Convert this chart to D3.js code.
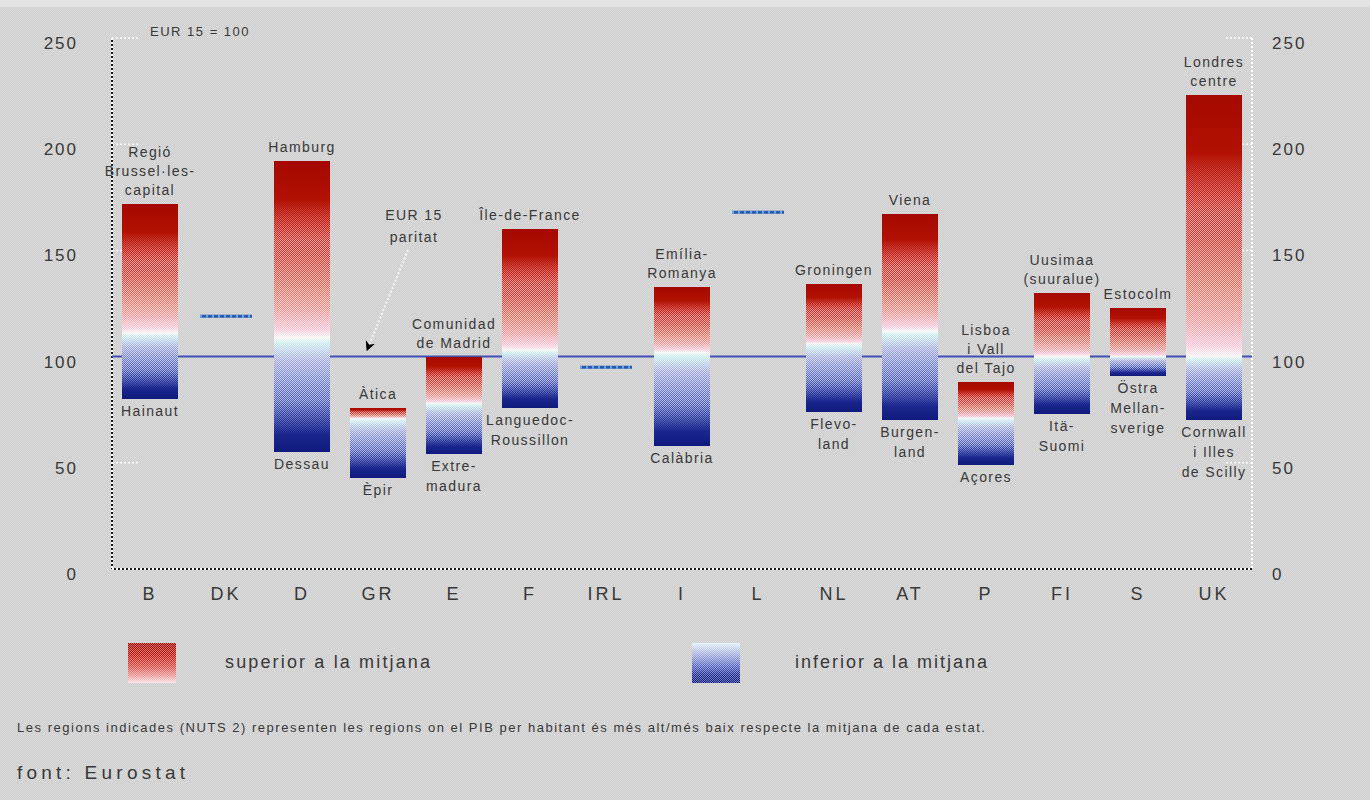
<!DOCTYPE html>
<html><head><meta charset="utf-8">
<script src="https://cdn.jsdelivr.net/npm/d3@7"></script>
<style>
body{margin:0;background:#d3d3d3;}
svg{display:block;}
text{font-family:"Liberation Sans",Arial,sans-serif;fill:#383838;}
</style></head><body><svg id="chart" width="1370" height="800"></svg>
<script>
// ---------- data ----------
const categories = ["B","DK","D","GR","E","F","IRL","I","L","NL","AT","P","FI","S","UK"];
const highValues = [172, null, 192, 76, 100, 160, null, 133, null, 134, 167, 88, 130, 123, 223];
const lowValues  = [80,  null, 55,  43, 54,  76,  null, 58,  null, 74,  70,  49, 73,  91,  70];
const nationalAverage = [111, 119, 109, 71, 78, 103, 95, 102, 168, 106, 112, 71, 100, 100, 100];
const highRegions = [
  ["Regió","Brussel·les-","capital"], [], ["Hamburg"], ["Àtica"], ["Comunidad","de Madrid"],
  ["Île-de-France"], [], ["Emília-","Romanya"], [], ["Groningen"], ["Viena"],
  ["Lisboa","i Vall","del Tajo"], ["Uusimaa","(suuralue)"], ["Estocolm"], ["Londres","centre"]
];
const lowRegions = [
  ["Hainaut"], [], ["Dessau"], ["Èpir"], ["Extre-","madura"], ["Languedoc-","Roussillon"], [],
  ["Calàbria"], [], ["Flevo-","land"], ["Burgen-","land"], ["Açores"], ["Itä-","Suomi"],
  ["Östra","Mellan-","sverige"], ["Cornwall","i Illes","de Scilly"]
];
const yTicks = [0, 50, 100, 150, 200, 250];
const referenceValue = 100;
const unitLabel = "EUR 15 = 100";
const parityLabel = ["EUR 15","paritat"];
const legendLabels = ["superior a la mitjana", "inferior a la mitjana"];
const footnote = "Les regions indicades (NUTS 2) representen les regions on el PIB per habitant és més alt/més baix respecte la mitjana de cada estat.";
const sourceText = "font: Eurostat";

// ---------- setup ----------
const W = 1370, H = 800;
const svg = d3.select("#chart");
const defs = svg.append("defs");

function checker(id, base, dot, op) {
  const p = defs.append("pattern").attr("id", id).attr("width", 2).attr("height", 2)
    .attr("patternUnits", "userSpaceOnUse");
  if (base) p.append("rect").attr("width", 2).attr("height", 2).attr("fill", base);
  p.append("rect").attr("x", 0).attr("y", 0).attr("width", 1).attr("height", 1).attr("fill", dot).attr("fill-opacity", op);
  p.append("rect").attr("x", 1).attr("y", 1).attr("width", 1).attr("height", 1).attr("fill", dot).attr("fill-opacity", op);
}
checker("bgdither", "#cdcdcd", "#dcdcdc", 1);
checker("wdither", null, "#ffffff", 0.6);

svg.append("rect").attr("width", W).attr("height", H).attr("fill", "url(#bgdither)");
svg.append("rect").attr("width", W).attr("height", 7).attr("fill", "#e3e3e3");

const x = d3.scaleBand().domain(categories).range([112, 1252]).paddingInner(0.263).paddingOuter(0.1315);
const y = d3.scaleLinear().domain([0, 250]).range([569, 38]);
const bw = x.bandwidth();

// inner tick stubs
const g = svg.append("g");
g.selectAll(".stubL").data(yTicks.filter(d => d > 0)).join("line")
  .attr("x1", 112).attr("x2", 138).attr("y1", d => y(d)).attr("y2", d => y(d))
  .attr("stroke", "#fafafa").attr("stroke-width", 1.5).attr("stroke-dasharray", "2,2");
g.selectAll(".stubR").data(yTicks.filter(d => d > 0)).join("line")
  .attr("x1", 1226).attr("x2", 1252).attr("y1", d => y(d)).attr("y2", d => y(d))
  .attr("stroke", "#fafafa").attr("stroke-width", 1.5).attr("stroke-dasharray", "2,2");

// frame
function dotted(x1, y1, x2, y2, dark) {
  if (dark) g.append("line").attr("x1", x1).attr("y1", y1).attr("x2", x2).attr("y2", y2)
    .attr("stroke", "#1a1a1a").attr("stroke-width", 2);
  g.append("line").attr("x1", x1).attr("y1", y1).attr("x2", x2).attr("y2", y2)
    .attr("stroke", "#ffffff").attr("stroke-width", 2).attr("stroke-dasharray", "2,2");
}
dotted(112, y(250), 112, y(0), true);
dotted(112, y(0), 1252, y(0), true);
dotted(1252, y(250), 1252, y(0), false);

// reference line at 100
g.append("line").attr("x1", 112).attr("x2", 1252).attr("y1", y(referenceValue)).attr("y2", y(referenceValue))
  .attr("stroke", "#3f4fb6").attr("stroke-width", 2);

// national average markers for single-region states
categories.forEach((c, i) => {
  if (highValues[i] !== null) return;
  g.append("line").attr("x1", x(c) + 2).attr("x2", x(c) + bw - 2)
    .attr("y1", y(nationalAverage[i])).attr("y2", y(nationalAverage[i]))
    .attr("stroke", "#2d55b4").attr("stroke-width", 3);
  g.append("line").attr("x1", x(c) + 2).attr("x2", x(c) + bw - 2)
    .attr("y1", y(nationalAverage[i])).attr("y2", y(nationalAverage[i]))
    .attr("stroke", "#5fb0d8").attr("stroke-width", 3).attr("stroke-dasharray", "2,4");
});

// bars
const redStops = [[0, "#a50800"], [0.2, "#b01000"], [0.35, "#c42018"], [0.55, "#d03830"], [0.72, "#e07060"], [0.86, "#f09898"], [0.96, "#f8c4d8"]];
const blueStops = [[0.04, "#c8ecee"], [0.2, "#a0a8dc"], [0.45, "#6070c4"], [0.65, "#3444a8"], [0.82, "#1c2890"], [1, "#101a7c"]];

categories.forEach((c, i) => {
  if (highValues[i] === null) return;
  const y0 = y(highValues[i]), y1 = y(lowValues[i]);
  const a = (y(nationalAverage[i]) - y0) / (y1 - y0);
  const gr = defs.append("linearGradient").attr("id", "bar" + i)
    .attr("gradientUnits", "userSpaceOnUse").attr("x1", 0).attr("x2", 0).attr("y1", y0).attr("y2", y1);
  redStops.forEach(([t, col]) => gr.append("stop").attr("offset", t * a).attr("stop-color", col));
  gr.append("stop").attr("offset", a).attr("stop-color", "#f4f4f2");
  blueStops.forEach(([t, col]) => gr.append("stop").attr("offset", a + (1 - a) * t).attr("stop-color", col));

  const mg = defs.append("linearGradient").attr("id", "mg" + i)
    .attr("gradientUnits", "userSpaceOnUse").attr("x1", 0).attr("x2", 0).attr("y1", y0).attr("y2", y1);
  [[0, 0], [0.22 * a, 0], [0.45 * a, 1], [a + (1 - a) * 0.55, 1], [a + (1 - a) * 0.85, 0], [1, 0]]
    .forEach(([o, v]) => mg.append("stop").attr("offset", o).attr("stop-color", v ? "#fff" : "#000"));
  const mask = defs.append("mask").attr("id", "mask" + i).attr("maskUnits", "userSpaceOnUse");
  mask.append("rect").attr("x", x(c)).attr("y", y0).attr("width", bw).attr("height", y1 - y0).attr("fill", "url(#mg" + i + ")");

  g.append("rect").attr("x", x(c)).attr("y", y0).attr("width", bw).attr("height", y1 - y0)
    .attr("fill", "url(#bar" + i + ")").attr("shape-rendering", "crispEdges");
  g.append("rect").attr("x", x(c)).attr("y", y0).attr("width", bw).attr("height", y1 - y0)
    .attr("fill", "url(#wdither)").attr("mask", "url(#mask" + i + ")").attr("shape-rendering", "crispEdges");

  const cx = x(c) + bw / 2;
  const hl = highRegions[i];
  hl.forEach((t, k) => {
    g.append("text").attr("x", cx).attr("y", y0 - 9 - (hl.length - 1 - k) * 19)
      .attr("text-anchor", "middle").attr("font-size", 14).attr("letter-spacing", 1.4).text(t);
  });
  lowRegions[i].forEach((t, k) => {
    g.append("text").attr("x", cx).attr("y", y1 + 17 + k * 20)
      .attr("text-anchor", "middle").attr("font-size", 14).attr("letter-spacing", 1.4).text(t);
  });
});

// axes
const axL = svg.append("g").attr("transform", "translate(112,0)")
  .call(d3.axisLeft(y).tickValues(yTicks).tickSize(0).tickPadding(34));
const axR = svg.append("g").attr("transform", "translate(1252,0)")
  .call(d3.axisRight(y).tickValues(yTicks).tickSize(0).tickPadding(20));
const axB = svg.append("g").attr("transform", "translate(0,569)")
  .call(d3.axisBottom(x).tickSize(0).tickPadding(18));
[axL, axR, axB].forEach(a => {
  a.select(".domain").remove();
  a.selectAll("text").attr("font-family", "Liberation Sans, Arial, sans-serif").attr("fill", "#383838");
});
[axL, axR].forEach(a => a.selectAll("text").attr("font-size", 17).attr("letter-spacing", 2).attr("dy", "0.62em"));
axB.selectAll("text").attr("font-size", 18).attr("letter-spacing", 3);

// unit label
svg.append("text").attr("x", 150).attr("y", 36).attr("font-size", 13).attr("letter-spacing", 1.5).text(unitLabel);

// parity annotation
const grC = x("GR");
parityLabel.forEach((t, k) => svg.append("text").attr("x", grC + 64).attr("y", 220 + k * 22)
  .attr("text-anchor", "middle").attr("font-size", 14).attr("letter-spacing", 1.4).text(t));
defs.append("marker").attr("id", "arrow").attr("viewBox", "0 0 10 10").attr("refX", 9).attr("refY", 5)
  .attr("markerWidth", 5).attr("markerHeight", 5).attr("markerUnits", "strokeWidth").attr("orient", "auto")
  .append("path").attr("d", "M0,0 L10,5 L0,10 L3,5 Z").attr("fill", "#000");
svg.append("line").attr("x1", grC + 58).attr("y1", 250).attr("x2", grC + 17).attr("y2", y(103))
  .attr("stroke", "#f4f4f4").attr("stroke-width", 2).attr("stroke-dasharray", "2,2")
  .attr("marker-end", "url(#arrow)");

// legend
const lg1 = defs.append("linearGradient").attr("id", "lgRed").attr("x1", 0).attr("x2", 0).attr("y1", 0).attr("y2", 1);
[[0, "#a00800"], [0.3, "#c01810"], [0.6, "#d85048"], [0.85, "#f0a0a0"], [1, "#f8e0e8"]]
  .forEach(([o, c]) => lg1.append("stop").attr("offset", o).attr("stop-color", c));
const lg2 = defs.append("linearGradient").attr("id", "lgBlue").attr("x1", 0).attr("x2", 0).attr("y1", 0).attr("y2", 1);
[[0, "#e0f0f4"], [0.3, "#a0a8dc"], [0.6, "#5060c0"], [0.8, "#1c2a90"], [1, "#101a80"]]
  .forEach(([o, c]) => lg2.append("stop").attr("offset", o).attr("stop-color", c));
const legendX = [128, 692], legendTextX = [225, 795], legendW = [205, 192];
["lgRed", "lgBlue"].forEach((id, k) => {
  svg.append("rect").attr("x", legendX[k]).attr("y", 643).attr("width", 48).attr("height", 40)
    .attr("fill", "url(#" + id + ")").attr("shape-rendering", "crispEdges");
  svg.append("rect").attr("x", legendX[k]).attr("y", 643).attr("width", 48).attr("height", 40)
    .attr("fill", "url(#wdither)").attr("opacity", 0.7).attr("shape-rendering", "crispEdges");
  svg.append("text").attr("x", legendTextX[k]).attr("y", 668).attr("font-size", 18)
    .attr("textLength", legendW[k]).attr("lengthAdjust", "spacing").text(legendLabels[k]);
});

svg.append("text").attr("x", 17).attr("y", 732).attr("font-size", 13)
  .attr("textLength", 968).attr("lengthAdjust", "spacing").text(footnote);
svg.append("text").attr("x", 17).attr("y", 779).attr("font-size", 19)
  .attr("textLength", 168).attr("lengthAdjust", "spacing").text(sourceText);
</script></body></html>
